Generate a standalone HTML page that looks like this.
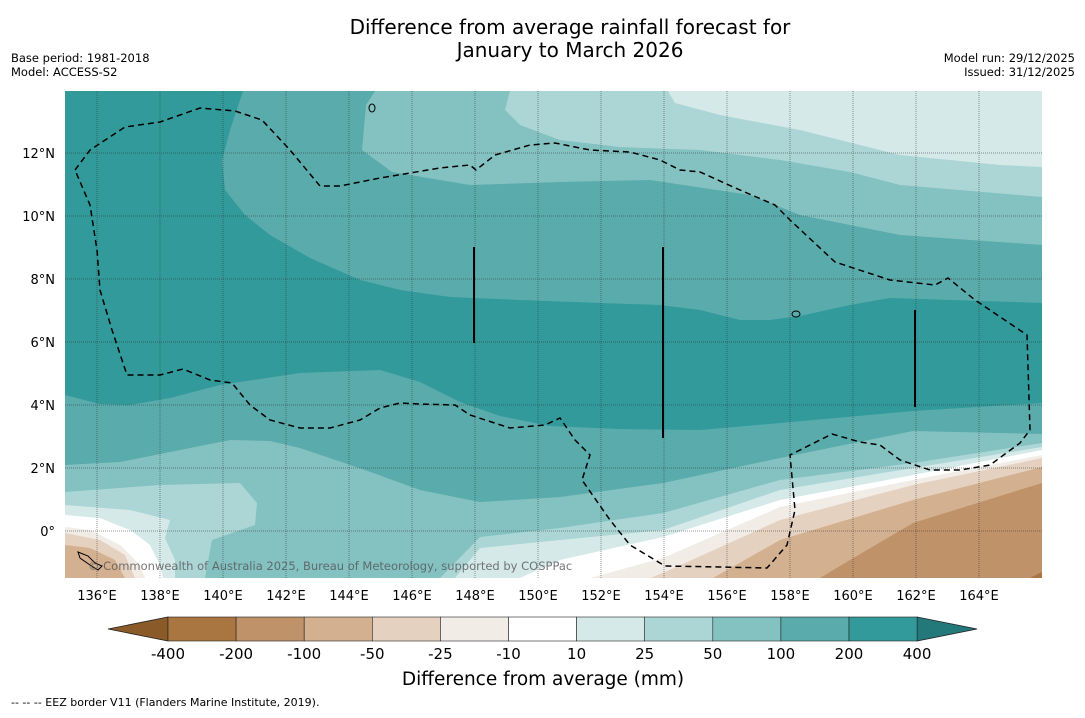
<!DOCTYPE html>
<html><head><meta charset="utf-8"><style>
body{margin:0;background:#fff;width:1085px;height:713px;overflow:hidden;font-family:"Liberation Sans","DejaVu Sans",sans-serif;}
svg text{font-family:"DejaVu Sans","Liberation Sans",sans-serif;}
</style></head><body>
<svg id="chart" width="1085" height="713" xmlns="http://www.w3.org/2000/svg">
<text x="570" y="34" text-anchor="middle" font-size="20">Difference from average rainfall forecast for</text>
<text x="570" y="57" text-anchor="middle" font-size="20">January to March 2026</text>
<text x="11" y="62" font-size="11.5">Base period: 1981-2018</text>
<text x="11" y="76" font-size="11.5">Model: ACCESS-S2</text>
<text x="1075" y="62" font-size="11.5" text-anchor="end">Model run: 29/12/2025</text>
<text x="1075" y="76" font-size="11.5" text-anchor="end">Issued: 31/12/2025</text>
<defs><clipPath id="mc"><rect x="65" y="91" width="977" height="487"/></clipPath></defs>
<g clip-path="url(#mc)">
<rect x="65" y="91" width="977" height="487" fill="#5aabab"/>
<path fill="#329a9a" d="M65,91 L243,91 L230,130 L222,160 L225,190 L245,215 L270,235 L310,258 L360,280 L400,290 L450,297 L520,300 L600,303 L660,305 L700,310 L740,320 L770,320 L800,316 L850,305 L890,298 L1042,303 L1042,403 L913,411 L780,423 L700,430 L620,429 L550,426 L500,416 L460,402 L420,382 L380,370 L300,373 L220,385 L170,398 L130,405 L100,404 L65,395 Z"/>
<path fill="#84c1c1" d="M375,91 L366,105 L362,150 L392,172 L470,185 L560,182 L650,180 L750,195 L800,215 L900,235 L1042,245 L1042,91 Z"/>
<path fill="#acd6d6" d="M510,91 L505,110 L520,125 L560,140 L620,147 L700,150 L780,160 L850,172 L900,185 L1042,197 L1042,91 Z"/>
<path fill="#d5e9e9" d="M668,91 L675,103 L720,115 L800,130 L860,145 L900,155 L1000,165 L1042,167 L1042,91 Z"/>
<path fill="#84c1c1" d="M65,465 L120,462 L180,450 L230,440 L270,441 L300,448 L365,470 L420,490 L480,502 L560,497 L663,483 L780,458 L913,431 L1042,434 L1042,578 L65,578 Z"/>
<path fill="#acd6d6" d="M65,492 L160,485 L240,483 L257,503 L255,525 L212,540 L205,578 L65,578 Z"/>
<path fill="#acd6d6" d="M440,578 L480,537 L560,528 L663,513 L780,480 L913,463 L1042,443 L1042,578 Z"/>
<path fill="#d5e9e9" d="M65,505 L130,510 L170,520 L165,538 L175,560 L175,578 L65,578 Z"/>
<path fill="#d5e9e9" d="M455,578 L480,548 L560,540 L663,530 L780,490 L913,468 L1042,447 L1042,578 Z"/>
<path fill="#ffffff" d="M65,515 L100,518 L130,530 L150,545 L160,565 L163,578 L65,578 Z"/>
<path fill="#ffffff" d="M520,578 L560,560 L663,537 L780,500 L913,475 L1042,450 L1042,578 Z"/>
<path fill="#f2ece7" d="M65,527 L90,530 L120,545 L140,565 L145,578 L65,578 Z"/>
<path fill="#f2ece7" d="M590,578 L663,558 L780,507 L913,480 L1042,455 L1042,578 Z"/>
<path fill="#e5d1bf" d="M65,533 L100,540 L125,555 L135,578 L65,578 Z"/>
<path fill="#e5d1bf" d="M650,578 L663,573 L780,520 L913,485 L1042,458 L1042,578 Z"/>
<path fill="#d3b08f" d="M65,545 L90,548 L115,560 L125,578 L65,578 Z"/>
<path fill="#d3b08f" d="M713,578 L780,540 L913,500 L1042,467 L1042,578 Z"/>
<path fill="#c09269" d="M820,578 L850,560 L913,523 L1042,483 L1042,578 Z"/>
<path fill="#a97540" d="M1030,578 L1042,572 L1042,578 Z"/>
<g id="grid"></g>
<path fill="none" stroke="#000" stroke-width="1.5" stroke-dasharray="6,4" d="M75,170 L90,150 L125,127 L160,122 L200,108 L235,111 L262,120 L290,150 L320,186 L340,186 L380,178 L440,168 L470,165 L476,170 L495,155 L530,145 L555,143 L590,150 L630,152 L660,160 L680,170 L700,172 L740,190 L775,205 L790,220 L835,262 L890,280 L935,285 L948,278 L975,300 L1027,335 L1030,430 L1020,443 L990,465 L960,470 L930,470 L900,460 L880,445 L860,442 L832,434 L790,455 L795,510 L787,545 L767,568 L720,567 L665,566 L630,545 L610,520 L582,480 L590,455 L575,440 L560,418 L545,425 L510,428 L470,415 L455,405 L420,404 L400,403 L380,408 L360,420 L330,428 L300,428 L270,420 L250,405 L232,383 L210,380 L183,369 L160,375 L127,375 L112,330 L100,290 L97,250 L90,205 Z"/>
<line x1="474" y1="247" x2="474" y2="343" stroke="#000" stroke-width="2"/>
<line x1="663" y1="247" x2="663" y2="438" stroke="#000" stroke-width="2"/>
<line x1="915" y1="310" x2="915" y2="407" stroke="#000" stroke-width="2"/>
<path fill="none" stroke="#000" stroke-width="1" d="M78,552 L88,556 L95,563 L102,566 L98,570 L90,565 L80,558 Z"/>
<ellipse cx="796" cy="314" rx="4" ry="3" fill="none" stroke="#000"/>
<ellipse cx="372" cy="108" rx="3" ry="4" fill="none" stroke="#000"/>
<text x="88" y="570" font-size="11.5" fill="#555" fill-opacity="0.8">© Commonwealth of Australia 2025, Bureau of Meteorology, supported by COSPPac</text>
</g>
<g id="xt"></g>
<g id="yt"></g>
<g id="cb"></g>
<text x="543" y="685" text-anchor="middle" font-size="18.5">Difference from average (mm)</text>
<text x="11" y="706" font-size="11">--  --  -- EEZ border V11 (Flanders Marine Institute, 2019).</text>
</svg>
<script>
const lonTicks=[136,138,140,142,144,146,148,150,152,154,156,158,160,162,164];
const latTicks=[12,10,8,6,4,2,0];
const cbLevels=["-400","-200","-100","-50","-25","-10","10","25","50","100","200","400"];
const cbColors=["#a97540","#c09269","#d3b08f","#e5d1bf","#f2ece7","#ffffff","#d5e9e9","#acd6d6","#84c1c1","#5aabab","#329a9a"];
const ns="http://www.w3.org/2000/svg";
function X(lon){return 97+(lon-136)*31.5;}
function Y(lat){return 531-lat*31.5;}
function mk(t,a,p){const e=document.createElementNS(ns,t);for(const k in a)e.setAttribute(k,a[k]);p.appendChild(e);return e;}
const grid=document.getElementById('grid'),xt=document.getElementById('xt'),yt=document.getElementById('yt'),cb=document.getElementById('cb');
lonTicks.forEach(l=>{
 const g=mk('line',{x1:X(l),x2:X(l),y1:91,y2:578,stroke:'#333','stroke-width':0.7,'stroke-dasharray':'1,1','stroke-opacity':0.7},grid);
 
 
 const t=mk('text',{x:X(l),y:600,'text-anchor':'middle','font-size':13},xt);t.textContent=l+'°E';
 
 
});
latTicks.forEach(l=>{
 const g=mk('line',{x1:65,x2:1042,y1:Y(l),y2:Y(l),stroke:'#333','stroke-width':0.7,'stroke-dasharray':'1,1','stroke-opacity':0.7},grid);
 
 
 const t=mk('text',{x:55,y:Y(l)+5,'text-anchor':'end','font-size':13},yt);t.textContent=l===0?'0°':l+'°N';
 
 
});
const cx0=168,cw=68.1,cy=617,ch=24;
const lt=mk('polygon',{points:`108,${cy+ch/2} ${cx0},${cy} ${cx0},${cy+ch}`,fill:'#8a5a28',stroke:'#222','stroke-width':0.8},cb);


const rt=mk('polygon',{points:`${cx0+cw*11},${cy} ${cx0+cw*11+60},${cy+ch/2} ${cx0+cw*11},${cy+ch}`,fill:'#23797a',stroke:'#222','stroke-width':0.8},cb);


cbColors.forEach((c,i)=>{
 const r=mk('rect',{x:cx0+i*cw,y:cy,width:cw,height:ch,fill:c,stroke:'#222','stroke-width':0.6},cb);
 
 
});
cbLevels.forEach((v,i)=>{
 const t=mk('text',{x:cx0+i*cw,y:659,'text-anchor':'middle','font-size':15},cb);t.textContent=v;
 
 
});
</script>
</body></html>
